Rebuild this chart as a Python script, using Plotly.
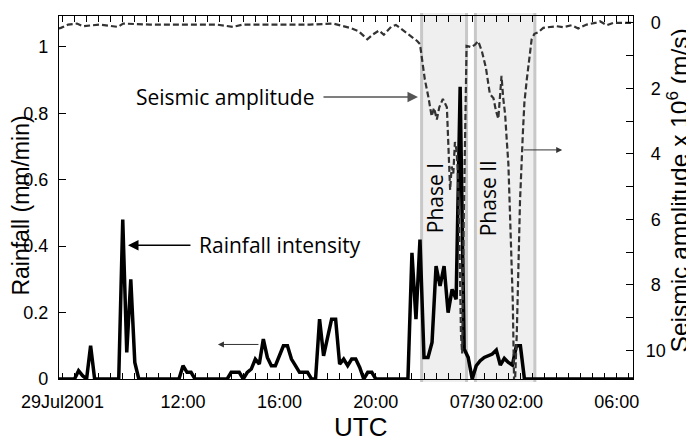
import plotly.graph_objects as go

# ---------------- data ----------------
rain_time = [
    "2001-07-29 06:50", "2001-07-29 07:30", "2001-07-29 07:40", "2001-07-29 07:50",
    "2001-07-29 08:00", "2001-07-29 08:10", "2001-07-29 08:20", "2001-07-29 09:20",
    "2001-07-29 09:30", "2001-07-29 09:40", "2001-07-29 09:50", "2001-07-29 10:00",
    "2001-07-29 10:10", "2001-07-29 11:50", "2001-07-29 12:00", "2001-07-29 12:10",
    "2001-07-29 12:20", "2001-07-29 12:30", "2001-07-29 13:50", "2001-07-29 14:00",
    "2001-07-29 14:10", "2001-07-29 14:20", "2001-07-29 14:30", "2001-07-29 14:40",
    "2001-07-29 14:50", "2001-07-29 15:00", "2001-07-29 15:10", "2001-07-29 15:20",
    "2001-07-29 15:30", "2001-07-29 15:40", "2001-07-29 15:50", "2001-07-29 16:00",
    "2001-07-29 16:10", "2001-07-29 16:20", "2001-07-29 16:30", "2001-07-29 16:40",
    "2001-07-29 16:50", "2001-07-29 17:00", "2001-07-29 17:10", "2001-07-29 17:20",
    "2001-07-29 17:30", "2001-07-29 17:40", "2001-07-29 17:50", "2001-07-29 18:00",
    "2001-07-29 18:10", "2001-07-29 18:20", "2001-07-29 18:30", "2001-07-29 18:40",
    "2001-07-29 18:50", "2001-07-29 19:00", "2001-07-29 19:10", "2001-07-29 19:20",
    "2001-07-29 19:30", "2001-07-29 19:40", "2001-07-29 19:50", "2001-07-29 20:00",
    "2001-07-29 21:20", "2001-07-29 21:30", "2001-07-29 21:40", "2001-07-29 21:50",
    "2001-07-29 22:00", "2001-07-29 22:10", "2001-07-29 22:20", "2001-07-29 22:30",
    "2001-07-29 22:40", "2001-07-29 22:50", "2001-07-29 23:00", "2001-07-29 23:10",
    "2001-07-29 23:20", "2001-07-29 23:30", "2001-07-29 23:40", "2001-07-29 23:50",
    "2001-07-30 00:00", "2001-07-30 00:10", "2001-07-30 00:20", "2001-07-30 00:30",
    "2001-07-30 00:40", "2001-07-30 00:50", "2001-07-30 01:00", "2001-07-30 01:10",
    "2001-07-30 01:20", "2001-07-30 01:30", "2001-07-30 01:40", "2001-07-30 01:50",
    "2001-07-30 02:00", "2001-07-30 02:10", "2001-07-30 06:45",
]
rain_mm_per_min = [
    0, 0, 0.025, 0.01,
    0, 0.10, 0, 0,
    0.48, 0.08, 0.30, 0.05,
    0, 0, 0.04, 0.02,
    0.02, 0, 0, 0.02,
    0.02, 0.02, 0, 0.02,
    0.03, 0.06, 0.045, 0.12,
    0.065, 0.04, 0.04, 0.07,
    0.10, 0.10, 0.06, 0.04,
    0.02, 0.02, 0.02, 0,
    0, 0.18, 0.07, 0.125,
    0.18, 0.18, 0.045, 0.06,
    0.04, 0.06, 0.06, 0.035,
    0, 0.02, 0.02, 0,
    0, 0.38, 0.18, 0.42,
    0.065, 0.065, 0.11, 0.34,
    0.28, 0.34, 0.20, 0.27,
    0.24, 0.88, 0.09, 0.065,
    0, 0.04, 0.055, 0.065,
    0.07, 0.075, 0.087, 0.042,
    0.062, 0.05, 0.042, 0.10,
    0.10, 0, 0,
]

seis_time = [
    "2001-07-29 06:50", "2001-07-29 06:56", "2001-07-29 07:14", "2001-07-29 07:36",
    "2001-07-29 07:51", "2001-07-29 08:33", "2001-07-29 09:18", "2001-07-29 09:31",
    "2001-07-29 10:38", "2001-07-29 11:53", "2001-07-29 13:24", "2001-07-29 14:04",
    "2001-07-29 14:29", "2001-07-29 16:01", "2001-07-29 17:16", "2001-07-29 18:14",
    "2001-07-29 18:56", "2001-07-29 19:17", "2001-07-29 19:39", "2001-07-29 19:53",
    "2001-07-29 20:08", "2001-07-29 20:20", "2001-07-29 20:38", "2001-07-29 20:50",
    "2001-07-29 21:08", "2001-07-29 21:28", "2001-07-29 21:43", "2001-07-29 21:50",
    "2001-07-29 21:54", "2001-07-29 22:02", "2001-07-29 22:11", "2001-07-29 22:19",
    "2001-07-29 22:25", "2001-07-29 22:32", "2001-07-29 22:38", "2001-07-29 22:47",
    "2001-07-29 22:57", "2001-07-29 23:01", "2001-07-29 23:05", "2001-07-29 23:09",
    "2001-07-29 23:13", "2001-07-29 23:17", "2001-07-29 23:21", "2001-07-29 23:24",
    "2001-07-29 23:28", "2001-07-29 23:32", "2001-07-29 23:35", "2001-07-29 23:39",
    "2001-07-29 23:43", "2001-07-29 23:46", "2001-07-29 23:58", "2001-07-30 00:07",
    "2001-07-30 00:15", "2001-07-30 00:24", "2001-07-30 00:34", "2001-07-30 00:44",
    "2001-07-30 00:53", "2001-07-30 00:59", "2001-07-30 01:05", "2001-07-30 01:09",
    "2001-07-30 01:13", "2001-07-30 01:17", "2001-07-30 01:22", "2001-07-30 01:26",
    "2001-07-30 01:30", "2001-07-30 01:34", "2001-07-30 01:41", "2001-07-30 01:45",
    "2001-07-30 01:51", "2001-07-30 01:55", "2001-07-30 01:59", "2001-07-30 02:06",
    "2001-07-30 02:10", "2001-07-30 02:16", "2001-07-30 02:22", "2001-07-30 02:28",
    "2001-07-30 02:35", "2001-07-30 02:45", "2001-07-30 02:57", "2001-07-30 03:14",
    "2001-07-30 03:30", "2001-07-30 03:47", "2001-07-30 04:08", "2001-07-30 04:24",
    "2001-07-30 04:45", "2001-07-30 05:06", "2001-07-30 05:18", "2001-07-30 05:35",
    "2001-07-30 05:51", "2001-07-30 06:16", "2001-07-30 06:45",
]
seis_amp = [
    0.17, 0.15, 0.05, 0.02,
    0.10, 0.05, 0.12, 0.02,
    0.05, 0.05, 0.05, 0.12,
    0.05, 0.05, 0.05, 0.02,
    0.15, 0.25, 0.50, 0.35,
    0.23, 0.36, 0.12, 0.06,
    0.22, 0.40, 0.55, 0.65,
    0.96, 1.72, 2.27, 2.85,
    2.60, 2.95, 2.58, 2.32,
    2.58, 4.09, 5.10, 4.39,
    4.60, 3.64, 3.89, 4.50,
    6.50, 9.50, 10.1, 6.00,
    2.00, 0.70, 0.74, 0.66,
    0.56, 0.86, 1.36, 2.17,
    2.30, 2.68, 2.93, 2.12,
    1.62, 2.27, 2.80, 3.58,
    4.29, 5.80, 8.50, 11.5,
    9.50, 7.50, 5.45, 3.40,
    2.42, 1.72, 1.00, 0.50,
    0.33, 0.28, 0.15, 0.12,
    0.10, 0.13, 0.07, 0.17,
    0.05, 0.00, -0.05, 0.07,
    0.00, 0.00, 0.00,
]

phase_names = ["Phase I", "Phase II"]
phase_start = ["2001-07-29 21:54", "2001-07-30 00:08"]
phase_end = ["2001-07-29 23:46", "2001-07-30 02:36"]
phase_label_time = ["2001-07-29 22:28", "2001-07-30 00:40"]

x_tick_vals = ["2001-07-29 07:00", "2001-07-29 12:00", "2001-07-29 16:00",
               "2001-07-29 20:00", "2001-07-30 00:00", "2001-07-30 02:00",
               "2001-07-30 06:00"]
x_tick_text = ["29Jul2001", "12:00", "16:00", "20:00", "07/30", "02:00", "06:00"]
rain_tick_vals = [0, 0.2, 0.4, 0.6, 0.8, 1.0]
rain_tick_text = ["0", "0.2", "0.4", "0.6", "0.8", "1"]
seis_tick_vals = [0, 2, 4, 6, 8, 10]
seis_tick_text = ["\u20080", "\u20082", "\u20084", "\u20086", "\u20088", "10"]

# ---------------- figure ----------------
TICK_FONT = dict(family="Liberation Sans, Arial, sans-serif", size=18, color="black")
TITLE_FONT = dict(family="Liberation Sans, Arial, sans-serif", size=23, color="black")
NOTE_FONT = dict(family="Open Sans, sans-serif", size=21, color="black")

fig = go.Figure()

fig.add_trace(go.Scatter(
    x=rain_time, y=rain_mm_per_min, mode="lines", yaxis="y",
    line=dict(color="black", width=3.5), showlegend=False, hoverinfo="skip"))

fig.add_trace(go.Scatter(
    x=seis_time, y=seis_amp, mode="lines", yaxis="y2",
    line=dict(color="#333333", width=2.2, dash="6px,3px"), showlegend=False,
    hoverinfo="skip"))

shapes = []
for s, e in zip(phase_start, phase_end):
    shapes.append(dict(type="rect", xref="x", yref="paper", x0=s, x1=e,
                       y0=-0.008, y1=1.008, fillcolor="#efefef",
                       line=dict(width=0), layer="below"))
    for xe in (s, e):
        shapes.append(dict(type="line", xref="x", yref="paper", x0=xe, x1=xe,
                           y0=-0.008, y1=1.008,
                           line=dict(color="#c8c8c8", width=3), layer="below"))

annotations = [
    # axis titles
    dict(text="Rainfall (mm/min)", xref="paper", yref="paper", x=-0.066, y=0.478,
         textangle=-90, showarrow=False, font=TITLE_FONT,
         xanchor="center", yanchor="middle"),
    dict(text="Seismic amplitude x 10<sup>6</sup> (m/s)", xref="paper", yref="paper",
         x=1.077, y=0.52, textangle=-90, showarrow=False,
         font=dict(TITLE_FONT, size=24.5), xanchor="center", yanchor="middle"),
    dict(text="UTC", xref="paper", yref="paper", x=0.526, y=-0.131,
         showarrow=False, font=dict(TITLE_FONT, size=26),
         xanchor="center", yanchor="middle"),
    # labels
    dict(text="Seismic amplitude", xref="x", yref="y", x="2001-07-29 13:44", y=0.849,
         showarrow=False, font=NOTE_FONT, xanchor="center", yanchor="middle"),
    dict(text="", xref="x", yref="y", x="2001-07-29 21:45", y=0.849,
         ax=-96, ay=0, showarrow=True, arrowhead=2, arrowsize=1.4, arrowwidth=1.5,
         arrowcolor="#555555"),
    dict(text="Rainfall intensity", xref="x", yref="y", x="2001-07-29 16:01", y=0.403,
         showarrow=False, font=NOTE_FONT, xanchor="center", yanchor="middle"),
    dict(text="", xref="x", yref="y", x="2001-07-29 09:43", y=0.403,
         ax=64, ay=0, showarrow=True, arrowhead=2, arrowsize=1.4, arrowwidth=1.5,
         arrowcolor="black"),
    dict(text="", xref="x", yref="y", x="2001-07-29 13:27", y=0.104,
         ax=42, ay=0, showarrow=True, arrowhead=2, arrowsize=1.2, arrowwidth=1,
         arrowcolor="#333333"),
    dict(text="", xref="x", yref="y2", x="2001-07-30 03:44", y=3.88,
         ax=-40, ay=0, showarrow=True, arrowhead=2, arrowsize=1.2, arrowwidth=1,
         arrowcolor="#333333"),
]
for name, t in zip(phase_names, phase_label_time):
    annotations.append(dict(text=name, xref="x", yref="y", x=t, y=0.545,
                            textangle=-90, showarrow=False, font=NOTE_FONT,
                            xanchor="center", yanchor="middle"))

# The page body adds an 8px margin, so the figure is 8px smaller and the
# top/left margins 8px smaller to land the plot area where the reference has it.
fig.update_layout(
    width=686, height=434,
    margin=dict(l=51, r=61, t=5, b=63),
    paper_bgcolor="white", plot_bgcolor="white",
    shapes=shapes, annotations=annotations,
    xaxis=dict(
        type="date", range=["2001-07-29 06:51:18", "2001-07-30 06:40:20"],
        tickmode="array", tickvals=x_tick_vals, ticktext=x_tick_text,
        ticks="inside", ticklen=6, tickwidth=1, tickcolor="black",
        showline=True, linecolor="black", linewidth=1.2, mirror="ticks",
        showgrid=False, zeroline=False, tickfont=TICK_FONT, ticklabelstandoff=6,
        minor=dict(ticks="inside", ticklen=6, tickwidth=1, tickcolor="black",
                   dtick=1800000, tick0="2001-07-29 07:00", showgrid=False),
    ),
    yaxis=dict(
        range=[0, 1.093], tickmode="array", tickvals=rain_tick_vals,
        ticktext=rain_tick_text, ticks="inside", ticklen=7, tickwidth=1,
        tickcolor="black", showline=True, linecolor="black", linewidth=1.2,
        showgrid=False, zeroline=False, tickfont=TICK_FONT, ticklabelstandoff=6,
    ),
    yaxis2=dict(
        overlaying="y", side="right", range=[10.88, -0.212],
        tickmode="array", tickvals=seis_tick_vals, ticktext=seis_tick_text,
        ticks="inside", ticklen=7, tickwidth=1, tickcolor="black",
        showline=True, linecolor="black", linewidth=1.2,
        showgrid=False, zeroline=False, tickfont=TICK_FONT, ticklabelstandoff=8,
        minor=dict(ticks="inside", ticklen=7, tickwidth=1, tickcolor="black",
                   dtick=1, tick0=0, showgrid=False),
    ),
)

fig.write_html("out.html")
